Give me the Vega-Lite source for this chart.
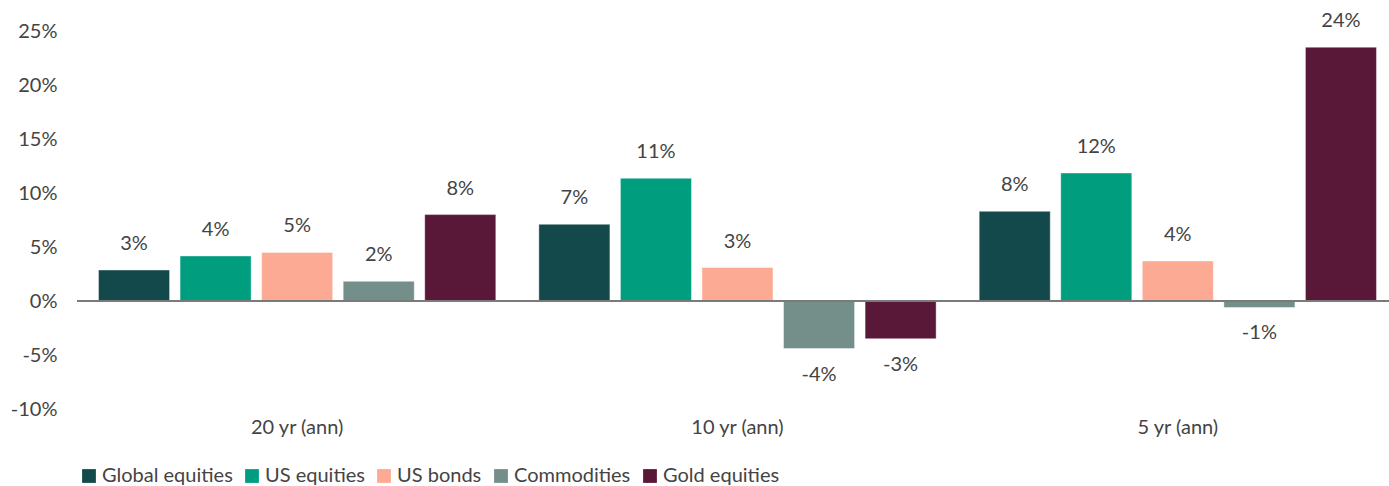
{
  "$schema": "https://vega.github.io/schema/vega-lite/v6.json",
  "autosize": {"type": "none"},
  "width": 1321,
  "height": 378,
  "padding": {"left": 77, "top": 31, "right": 0, "bottom": 77},
  "background": "white",
  "config": {
    "view": {"stroke": null},
    "font": "Lato",
    "locale": {"number": {"decimal": ".", "thousands": ",", "grouping": [3], "currency": ["$", ""], "minus": "-"}},
    "axis": {"labelFont": "Lato", "labelColor": "#444444", "labelFontSize": 20, "grid": false, "domain": false, "ticks": false},
    "legend": {"labelFont": "Lato", "labelColor": "#444444", "labelFontSize": 20}
  },
  "data": {
    "values": [
      {"period": "20 yr (ann)", "asset": "Global equities", "value": 0.0287},
      {"period": "20 yr (ann)", "asset": "US equities", "value": 0.0417},
      {"period": "20 yr (ann)", "asset": "US bonds", "value": 0.045},
      {"period": "20 yr (ann)", "asset": "Commodities", "value": 0.0182},
      {"period": "20 yr (ann)", "asset": "Gold equities", "value": 0.08},
      {"period": "10 yr (ann)", "asset": "Global equities", "value": 0.071},
      {"period": "10 yr (ann)", "asset": "US equities", "value": 0.1136},
      {"period": "10 yr (ann)", "asset": "US bonds", "value": 0.031},
      {"period": "10 yr (ann)", "asset": "Commodities", "value": -0.044},
      {"period": "10 yr (ann)", "asset": "Gold equities", "value": -0.0349},
      {"period": "5 yr (ann)", "asset": "Global equities", "value": 0.083},
      {"period": "5 yr (ann)", "asset": "US equities", "value": 0.1185},
      {"period": "5 yr (ann)", "asset": "US bonds", "value": 0.037},
      {"period": "5 yr (ann)", "asset": "Commodities", "value": -0.006},
      {"period": "5 yr (ann)", "asset": "Gold equities", "value": 0.235}
    ]
  },
  "encoding": {
    "x": {
      "field": "period", "type": "nominal",
      "sort": ["20 yr (ann)", "10 yr (ann)", "5 yr (ann)"],
      "scale": {"paddingInner": 0, "paddingOuter": 0},
      "axis": {"title": null, "labelAngle": 0, "labelPadding": 18, "labelBaseline": "middle"}
    },
    "xOffset": {
      "field": "asset", "type": "nominal",
      "sort": ["Global equities", "US equities", "US bonds", "Commodities", "Gold equities"],
      "scale": {"paddingInner": 0.129, "paddingOuter": 0.264}
    },
    "y": {
      "field": "value", "type": "quantitative",
      "scale": {"domain": [-0.1, 0.25], "nice": false},
      "axis": {"title": null, "format": ".0%", "values": [-0.1, -0.05, 0, 0.05, 0.1, 0.15, 0.2, 0.25], "labelPadding": 20}
    }
  },
  "layer": [
    {
      "mark": {"type": "bar", "stroke": "white", "strokeWidth": 1, "strokeOpacity": 0.4},
      "encoding": {
        "color": {
          "field": "asset", "type": "nominal",
          "sort": ["Global equities", "US equities", "US bonds", "Commodities", "Gold equities"],
          "scale": {
            "domain": ["Global equities", "US equities", "US bonds", "Commodities", "Gold equities"],
            "range": ["#13494a", "#009e7f", "#fcaa93", "#748f89", "#5a1839"]
          },
          "legend": {
            "title": null, "orient": "none", "direction": "horizontal",
            "legendX": 2, "legendY": 435,
            "symbolType": "square", "symbolSize": 190, "symbolStrokeWidth": 0,
            "labelOffset": 3, "columnPadding": 9
          }
        }
      }
    },
    {
      "transform": [{"filter": "datum.value >= 0"}],
      "mark": {"type": "text", "dy": -26, "fontSize": 20, "color": "#444444", "baseline": "middle"},
      "encoding": {"text": {"field": "value", "type": "quantitative", "format": ".0%"}}
    },
    {
      "transform": [{"filter": "datum.value < 0"}],
      "mark": {"type": "text", "dy": 26, "fontSize": 20, "color": "#444444", "baseline": "middle"},
      "encoding": {"text": {"field": "value", "type": "quantitative", "format": ".0%"}}
    },
    {
      "data": {"values": [{"zero": 0}]},
      "mark": {"type": "rule", "color": "#7a7a7a", "strokeWidth": 2},
      "encoding": {"y": {"field": "zero", "type": "quantitative"}, "x": null, "xOffset": null}
    }
  ]
}
